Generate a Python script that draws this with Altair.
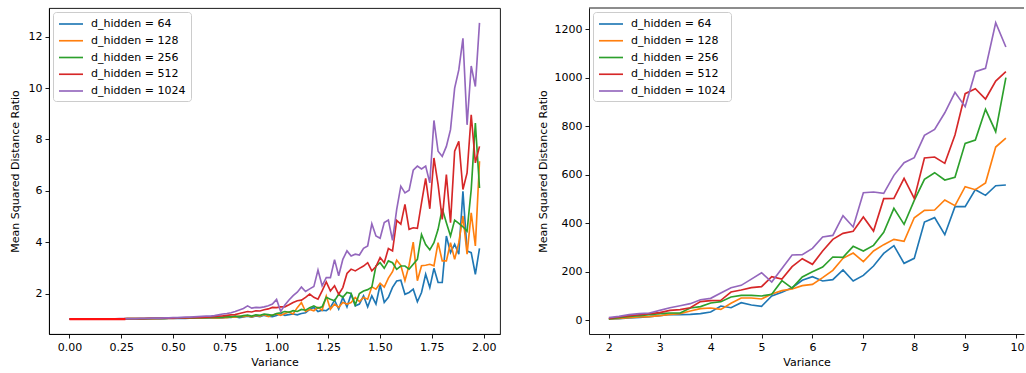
import altair as alt
import pandas as pd

LABELS = ["d_hidden = 64", "d_hidden = 128", "d_hidden = 256", "d_hidden = 512", "d_hidden = 1024"]
COLORS = ["#1f77b4", "#ff7f0e", "#2ca02c", "#d62728", "#9467bd"]
FONT = "DejaVu Sans"

# ---- low-variance sweep: variance 0.00 .. 1.98 (step 0.02) ----
low_var = [round(i * 0.02, 2) for i in range(100)]

low_64 = [
    1.00, 1.00, 1.00, 1.01, 1.01, 1.01, 1.01, 1.01, 1.01, 1.01,
    1.01, 1.01, 1.01, 1.01, 1.01, 1.01, 1.01, 1.01, 1.01, 1.02,
    1.02, 1.02, 1.02, 1.02, 1.03, 1.03, 1.03, 1.03, 1.03, 1.04,
    1.04, 1.04, 1.05, 1.05, 1.05, 1.05, 1.06, 1.05, 1.08, 1.07,
    1.10, 1.06, 1.09, 1.12, 1.08, 1.13, 1.10, 1.15, 1.12, 1.10,
    1.14, 1.22, 1.15, 1.18, 1.20, 1.17, 1.22, 1.25, 1.38, 1.46,
    1.30, 1.35, 1.33, 1.46, 1.74, 1.39, 1.85, 1.48, 1.97, 1.52,
    1.59, 1.91, 1.48, 1.91, 1.59, 2.34, 1.65, 1.85, 2.24, 2.49,
    2.52, 1.97, 2.04, 2.17, 1.68, 2.04, 2.75, 2.23, 2.98, 2.43,
    2.43, 4.24, 3.59, 3.92, 3.53, 5.98, 3.66, 3.59, 2.75, 3.76,
]
low_128 = [
    1.00, 1.00, 1.00, 1.01, 1.01, 1.01, 1.01, 1.01, 1.01, 1.01,
    1.01, 1.01, 1.01, 1.01, 1.02, 1.02, 1.02, 1.02, 1.02, 1.02,
    1.02, 1.03, 1.03, 1.03, 1.03, 1.03, 1.04, 1.04, 1.04, 1.04,
    1.05, 1.05, 1.05, 1.06, 1.06, 1.05, 1.05, 1.07, 1.06, 1.09,
    1.08, 1.12, 1.10, 1.14, 1.09, 1.15, 1.12, 1.18, 1.10, 1.16,
    1.20, 1.15, 1.22, 1.28, 1.20, 1.45, 1.65, 1.30, 1.38, 1.33,
    1.46, 1.35, 1.90, 1.39, 1.59, 1.46, 1.65, 1.59, 1.65, 1.85,
    1.69, 1.85, 1.78, 2.26, 2.17, 2.40, 2.25, 2.60, 2.85, 3.30,
    3.10, 2.50, 3.10, 4.00, 2.50, 3.08, 3.10, 3.14, 3.08, 3.98,
    3.27, 3.27, 3.98, 3.33, 3.98, 5.02, 3.53, 5.14, 3.85, 7.15,
]
low_256 = [
    1.00, 1.00, 1.00, 1.01, 1.01, 1.01, 1.01, 1.01, 1.01, 1.01,
    1.01, 1.01, 1.01, 1.01, 1.02, 1.02, 1.02, 1.02, 1.02, 1.02,
    1.03, 1.03, 1.03, 1.03, 1.04, 1.04, 1.04, 1.04, 1.05, 1.05,
    1.05, 1.06, 1.06, 1.06, 1.07, 1.07, 1.07, 1.08, 1.10, 1.09,
    1.12, 1.10, 1.14, 1.16, 1.12, 1.17, 1.15, 1.20, 1.18, 1.15,
    1.22, 1.25, 1.30, 1.27, 1.33, 1.30, 1.38, 1.35, 1.45, 1.52,
    1.43, 1.48, 1.85, 1.78, 1.72, 1.97, 1.85, 2.04, 2.00, 1.56,
    2.00, 2.10, 2.15, 2.25, 3.07, 3.20, 2.98, 3.27, 3.20, 2.94,
    3.07, 3.07, 2.95, 3.14, 3.33, 4.30, 3.91, 3.70, 3.98, 4.50,
    5.30, 4.76, 4.24, 4.86, 4.73, 4.60, 4.43, 6.05, 8.64, 6.11,
]
low_512 = [
    1.00, 1.00, 1.00, 1.01, 1.01, 1.01, 1.01, 1.01, 1.01, 1.01,
    1.01, 1.01, 1.01, 1.01, 1.02, 1.02, 1.02, 1.02, 1.02, 1.03,
    1.03, 1.03, 1.03, 1.04, 1.04, 1.04, 1.05, 1.05, 1.05, 1.06,
    1.06, 1.07, 1.07, 1.08, 1.09, 1.10, 1.12, 1.13, 1.15, 1.17,
    1.18, 1.22, 1.26, 1.30, 1.28, 1.33, 1.32, 1.37, 1.40, 1.46,
    1.45, 1.48, 1.48, 1.56, 1.65, 1.72, 1.74, 1.85, 1.98, 1.85,
    1.78, 2.10, 2.45, 2.10, 2.30, 1.97, 2.23, 2.78, 2.95, 2.88,
    2.98, 3.07, 3.20, 2.88, 3.05, 3.40, 3.20, 3.75, 3.66, 4.85,
    4.70, 5.47, 4.50, 4.56, 4.54, 5.53, 6.48, 5.30, 7.28, 6.24,
    4.89, 6.63, 4.76, 7.54, 7.93, 6.05, 6.70, 8.96, 7.09, 7.73,
]
low_1024 = [
    1.00, 1.00, 1.00, 1.01, 1.01, 1.01, 1.01, 1.01, 1.01, 1.01,
    1.01, 1.01, 1.02, 1.02, 1.02, 1.02, 1.02, 1.03, 1.03, 1.03,
    1.04, 1.04, 1.04, 1.05, 1.05, 1.06, 1.06, 1.07, 1.08, 1.08,
    1.09, 1.10, 1.11, 1.12, 1.12, 1.14, 1.17, 1.20, 1.22, 1.25,
    1.30, 1.36, 1.42, 1.52, 1.43, 1.46, 1.45, 1.48, 1.52, 1.59,
    1.77, 1.30, 1.55, 1.75, 1.92, 2.05, 2.25, 2.08, 2.18, 2.27,
    2.91, 2.30, 2.62, 2.62, 3.32, 2.69, 3.33, 3.66, 3.46, 3.53,
    3.50, 3.76, 3.85, 4.72, 4.24, 4.15, 4.76, 4.86, 4.07, 5.27,
    6.18, 5.92, 6.02, 6.80, 6.96, 6.85, 6.96, 6.31, 8.74, 7.54,
    7.34, 7.73, 8.38, 10.00, 10.71, 11.94, 8.57, 10.86, 10.06, 12.54,
]

# short unit-ratio baseline drawn over the start of the sweep
base_var = [0.0, 0.27]
base_val = [1.0, 1.0]

# ---- high-variance sweep: variance 2.0 .. 9.8 (step 0.2) ----
high_var = [round(2 + i * 0.2, 1) for i in range(40)]

high_64 = [
    5.5, 7.0, 9.5, 12.3, 15.0, 19.0, 24.6, 23.2, 24.6, 27.4,
    34.3, 59.0, 52.0, 72.7, 63.0, 57.6, 100.2, 115.3, 134.6, 165.0,
    180.0, 162.0, 167.6, 207.4, 162.0, 185.4, 224.0, 276.0, 307.8, 235.0,
    255.5, 405.4, 423.3, 353.0, 468.6, 468.6, 538.7, 515.3, 555.0, 558.0,
]
high_128 = [
    5.5, 8.0, 11.0, 13.5, 15.0, 19.0, 24.6, 27.4, 38.4, 48.0,
    50.6, 45.2, 70.0, 92.0, 92.0, 88.0, 108.5, 122.2, 129.0, 142.8,
    148.3, 175.8, 206.0, 255.6, 277.5, 241.8, 285.8, 311.9, 333.9, 325.6,
    423.0, 453.5, 454.8, 496.0, 472.7, 551.0, 538.7, 566.0, 714.7, 751.8,
]
high_256 = [
    5.5, 11.0, 16.4, 19.0, 23.0, 27.4, 30.0, 30.0, 50.6, 56.3,
    71.4, 76.9, 96.0, 103.0, 103.0, 100.2, 107.0, 163.4, 133.0, 178.6,
    200.6, 219.8, 261.0, 259.7, 305.0, 285.8, 309.0, 362.8, 461.7, 395.8,
    494.7, 581.3, 608.8, 578.6, 589.6, 729.8, 743.5, 870.0, 777.9, 1000.6,
]
high_512 = [
    8.1, 13.5, 19.0, 23.0, 27.4, 31.6, 41.0, 44.0, 52.0, 76.9,
    81.0, 82.5, 116.7, 125.0, 134.6, 138.7, 180.0, 170.3, 221.2, 254.2,
    230.8, 285.8, 333.9, 358.7, 366.9, 426.0, 368.0, 501.6, 503.0, 585.5,
    503.0, 669.3, 673.4, 647.3, 764.0, 934.6, 955.0, 912.6, 986.8, 1025.3,
]
high_1024 = [
    10.9, 16.4, 23.2, 27.4, 30.0, 41.0, 52.0, 60.0, 68.6, 85.0,
    90.6, 112.6, 134.6, 144.2, 170.0, 196.4, 158.0, 214.0, 269.3, 270.7,
    296.8, 343.5, 350.0, 431.5, 385.0, 526.0, 529.0, 523.6, 597.8, 650.0,
    670.7, 762.8, 787.5, 856.0, 940.0, 881.0, 1025.0, 1039.0, 1227.0, 1127.0,
]


def long_table(xs, series):
    rows = []
    for label, values in zip(LABELS, series):
        for x, v in zip(xs, values):
            rows.append({"Variance": x, "ratio": v, "series": label})
    return pd.DataFrame(rows)


low_df = long_table(low_var, [low_64, low_128, low_256, low_512, low_1024])
high_df = long_table(high_var, [high_64, high_128, high_256, high_512, high_1024])
base_df = pd.DataFrame({"Variance": base_var, "ratio": base_val})

AXIS = dict(
    domainColor="black", domainWidth=0.9, tickColor="black", tickWidth=0.9,
    tickSize=4, labelPadding=3, labelFont=FONT, labelFontSize=11,
    labelColor="black", titleFont=FONT, titleFontSize=11,
    titleFontWeight="normal", titleColor="black", grid=False,
)

# legend handle: a 24px stroke starting at the left of the symbol column
LEGEND = alt.Legend(
    title=None, orient="top-left", offset=4, symbolType="M-1,0H3",
    symbolSize=144, symbolStrokeWidth=1.65, labelFont=FONT, labelFontSize=11,
    labelColor="black", labelOffset=19, rowPadding=4.75, padding=5,
    fillColor="rgba(255,255,255,0.8)", strokeColor="#cccccc",
    cornerRadius=3, labelLimit=300,
)

color = alt.Color(
    "series:N", scale=alt.Scale(domain=LABELS, range=COLORS), legend=LEGEND
)


def panel(df, x_scale, x_axis, y_scale, y_axis):
    layers = []
    for label in LABELS:
        layers.append(
            alt.Chart(df)
            .transform_filter(alt.datum.series == label)
            .mark_line(strokeWidth=1.65)
            .encode(
                x=alt.X("Variance:Q", scale=x_scale, axis=x_axis),
                y=alt.Y("ratio:Q", scale=y_scale, axis=y_axis),
                color=color,
            )
        )
    return layers


left_x_scale = alt.Scale(domain=[-0.099, 2.079], nice=False, zero=False)
left_y_scale = alt.Scale(domain=[0.423, 13.12], nice=False, zero=False)
left_x_axis = alt.Axis(
    values=[0, 0.25, 0.5, 0.75, 1.0, 1.25, 1.5, 1.75, 2.0], format=".2f",
    title="Variance", titlePadding=4, **AXIS,
)
left_y_axis = alt.Axis(
    values=[2, 4, 6, 8, 10, 12], title="Mean Squared Distance Ratio",
    titlePadding=8, **AXIS,
)

left_layers = panel(low_df, left_x_scale, left_x_axis, left_y_scale, left_y_axis)
left_layers.append(
    alt.Chart(base_df)
    .mark_line(color="#ff1010", strokeWidth=2.2)
    .encode(x="Variance:Q", y="ratio:Q")
)
left = alt.layer(*left_layers).properties(
    width=451, height=326,
    view=alt.ViewBackground(stroke="black", strokeWidth=0.9),
)

right_x_scale = alt.Scale(domain=[1.61, 10.156], nice=False, zero=False)
right_y_scale = alt.Scale(domain=[-56.5, 1288.0], nice=False, zero=False)
right_x_axis = alt.Axis(
    values=[2, 3, 4, 5, 6, 7, 8, 9, 10], format="d", title="Variance",
    titlePadding=4, labelFlush=10, labelFlushOffset=8, **AXIS,
)
right_y_axis = alt.Axis(
    values=[0, 200, 400, 600, 800, 1000, 1200], format="d",
    title="Mean Squared Distance Ratio", titlePadding=6, **AXIS,
)

right_layers = panel(high_df, right_x_scale, right_x_axis, right_y_scale, right_y_axis)
# top spine of the right panel (its right edge runs off the canvas)
right_layers.append(
    alt.Chart(pd.DataFrame({"k": [0]}))
    .mark_rule(color="black", strokeWidth=0.9)
    .encode(x=alt.value(0), x2=alt.value(435), y=alt.value(0))
)
right = (
    alt.layer(*right_layers)
    .properties(width=435, height=326, view=alt.ViewBackground(strokeOpacity=0))
)

chart = (
    alt.hconcat(left, right, spacing=36)
    .resolve_scale(color="independent")
    .resolve_legend(color="independent")
    .properties(padding={"left": 8, "top": 7, "right": 0, "bottom": 0})
    .configure(font=FONT)
)

chart.save("out.html", embed_options={"renderer": "svg", "actions": False})
